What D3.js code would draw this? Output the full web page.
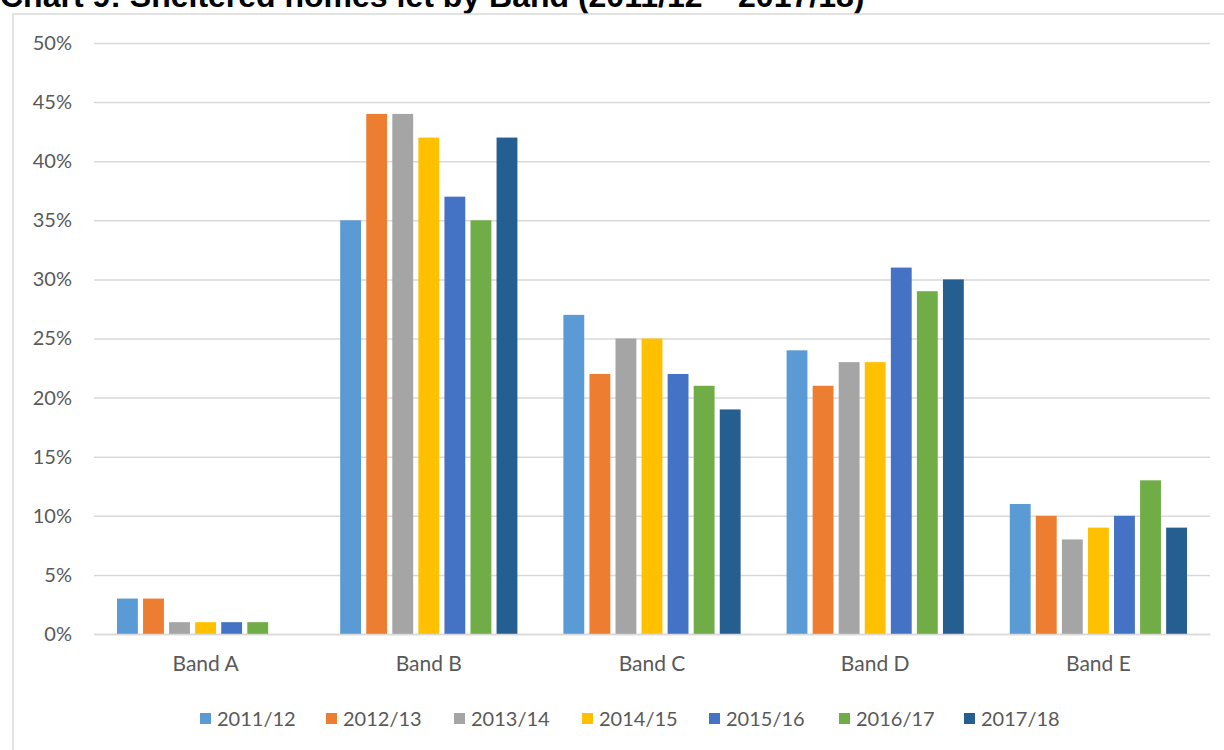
<!DOCTYPE html>
<html>
<head>
<meta charset="utf-8">
<script src="https://cdn.jsdelivr.net/npm/d3@7"></script>
<style>
  body { margin: 0; background: #fff; }
  svg { display: block; }
</style>
</head>
<body>
<svg width="1224" height="750"></svg>
<script>
// chart values
var bands = ["Band A", "Band B", "Band C", "Band D", "Band E"];
var years = ["2011/12", "2012/13", "2013/14", "2014/15", "2015/16", "2016/17", "2017/18"];
var yr1112 = [3, 35, 27, 24, 11];
var yr1213 = [3, 44, 22, 21, 10];
var yr1314 = [1, 44, 25, 23, 8];
var yr1415 = [1, 42, 25, 23, 9];
var yr1516 = [1, 37, 22, 31, 10];
var yr1617 = [1, 35, 21, 29, 13];
var yr1718 = [null, 42, 19, 30, 9];
var yTicks = [0, 5, 10, 15, 20, 25, 30, 35, 40, 45, 50];

var series = [yr1112, yr1213, yr1314, yr1415, yr1516, yr1617, yr1718];
var colors = ["#5B9BD5", "#ED7D31", "#A5A5A5", "#FFC000", "#4472C4", "#70AD47", "#255E91"];

var svg = d3.select("svg");
var plotLeft = 94, plotRight = 1210, plotTop = 43, plotBottom = 634;
var labelFont = "Lato, Open Sans, sans-serif";

// title (cut at the top like the original)
svg.append("text")
    .attr("x", 0)
    .attr("y", 7)
    .attr("font-family", "Liberation Sans, Arial, sans-serif")
    .attr("font-weight", "bold")
    .attr("font-size", "32px")
    .attr("fill", "#000")
    .text("Chart 9: Sheltered homes let by Band (2011/12 \u2013 2017/18)");

// chart frame
svg.append("rect")
    .attr("x", 13)
    .attr("y", 14)
    .attr("width", 1260)
    .attr("height", 800)
    .attr("fill", "none")
    .attr("stroke", "#d9d9d9")
    .attr("stroke-width", 1.5);

var x0 = d3.scaleBand()
    .domain(bands)
    .range([plotLeft, plotRight])
    .paddingInner(0.206)
    .paddingOuter(0.103);

var x1 = d3.scaleBand()
    .domain(years)
    .range([0, x0.bandwidth()])
    .paddingInner(0.2);

var y = d3.scaleLinear()
    .domain([0, 50])
    .range([plotBottom, plotTop]);

// gridlines and y labels
var yAxis = svg.append("g")
    .attr("transform", "translate(" + plotLeft + ",0)")
    .call(d3.axisLeft(y).tickValues(yTicks).tickSize(-(plotRight - plotLeft)).tickPadding(22)
        .tickFormat(function(d) { return d + "%"; }));
yAxis.select(".domain").remove();
yAxis.selectAll(".tick line").attr("stroke", "#d9d9d9").attr("stroke-width", 1.5);
yAxis.selectAll(".tick text")
    .attr("fill", "#595959")
    .attr("font-family", labelFont)
    .attr("font-size", "20px");

// bars
var groups = svg.selectAll(".band")
    .data(bands)
    .enter().append("g")
    .attr("class", "band")
    .attr("transform", function(d) { return "translate(" + x0(d) + ",0)"; });

groups.selectAll("rect")
    .data(function(b, i) {
        return years.map(function(yr, j) { return { year: yr, value: series[j][i], color: colors[j] }; })
            .filter(function(d) { return d.value != null; });
    })
    .enter().append("rect")
    .attr("x", function(d) { return x1(d.year); })
    .attr("y", function(d) { return y(d.value); })
    .attr("width", x1.bandwidth())
    .attr("height", function(d) { return plotBottom - y(d.value); })
    .attr("fill", function(d) { return d.color; });

// x axis labels
var xAxis = svg.append("g")
    .attr("transform", "translate(0," + plotBottom + ")")
    .call(d3.axisBottom(x0).tickSize(0).tickPadding(22));
xAxis.select(".domain").attr("stroke", "#d9d9d9").attr("stroke-width", 1.5);
xAxis.selectAll(".tick text")
    .attr("fill", "#595959")
    .attr("font-family", labelFont)
    .attr("font-size", "21px");

// legend
var legendX = [200, 326, 454, 582, 709, 839, 964];
var legend = svg.append("g")
    .selectAll("g")
    .data(years)
    .enter().append("g")
    .attr("transform", function(d, i) { return "translate(" + legendX[i] + ",713)"; });

legend.append("rect")
    .attr("width", 11)
    .attr("height", 11)
    .attr("fill", function(d, i) { return colors[i]; });

legend.append("text")
    .attr("x", 17)
    .attr("y", 5.5)
    .attr("dy", "0.35em")
    .attr("fill", "#595959")
    .attr("font-family", labelFont)
    .attr("font-size", "20px")
    .text(function(d) { return d; });
</script>
</body>
</html>
